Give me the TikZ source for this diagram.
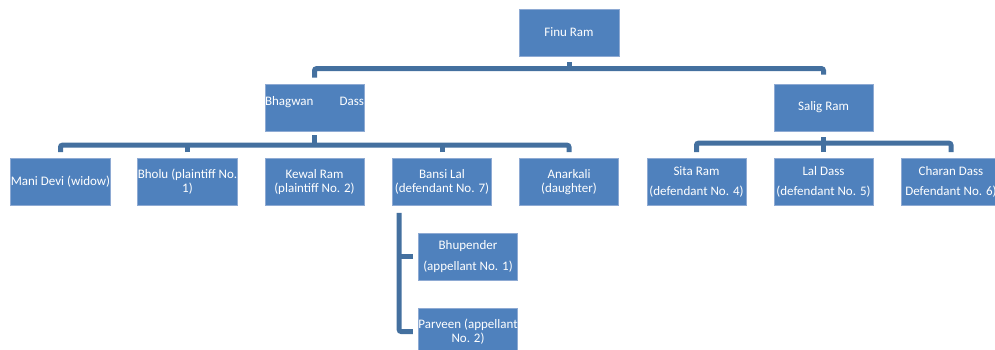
\documentclass[tikz,border=0pt]{standalone}
\usepackage{fontspec}
\setmainfont{Carlito}
\definecolor{boxfill}{HTML}{4F81BD}
\definecolor{boxedge}{HTML}{8EAAD3}
\definecolor{linkcol}{HTML}{44709F}
\tikzset{
  person/.style={draw=boxedge, line width=0.7pt, fill=boxfill, text=white,
    minimum width=99pt, minimum height=47pt, inner sep=0pt, align=center,
    font=\fontsize{13}{14}\selectfont},
  link/.style={draw=linkcol, line width=5pt, rounded corners=2pt}
}
\begin{document}
\begin{tikzpicture}[x=1pt,y=1pt]
            \useasboundingbox (0,0) rectangle (995,349);
            % parents
            \node[person, minimum width=100pt] (finu) at (569,316.5) {Finu Ram};
            \node[person] (bhagwan) at (314.5,241.5) {\makebox[99pt][s]{Bhagwan Dass}\\\phantom{B}};
            \node[person] (salig) at (823.5,241.5) {Salig Ram};
            % children of Bhagwan Dass
            \node[person] (mani) at (60.5,167) {Mani Devi (widow)};
            \node[person] (bholu) at (187.5,167) {Bholu (plaintiff No.\\1)};
            \node[person] (kewal) at (314.5,167) {Kewal Ram\\(plaintiff No. 2)};
            \node[person] (bansi) at (442,167) {Bansi Lal\\(defendant No. 7)};
            \node[person] (anarkali) at (569,167) {Anarkali\\(daughter)};
            % children of Salig Ram
            \node[person] (sita) at (696.5,167) {Sita Ram\\[6pt](defendant No. 4)};
            \node[person] (lal) at (823.5,167) {Lal Dass\\[6pt](defendant No. 5)};
            \node[person] (charan) at (951,167) {Charan Dass\\[6pt]Defendant No. 6)};
            % children of Bansi Lal
            \node[person] (bhupender) at (468,92.5) {Bhupender\\[7pt](appellant No. 1)};
            \node[person] (parveen) at (468,17.5) {Parveen (appellant\\No. 2)};
            % connectors
            \draw[link] ([yshift=-6pt]finu.south) -- ++(0,-7.5);
            \draw[link] ([yshift=6pt]bhagwan.north) -- ++(0,9) -| ([yshift=9pt]salig.north);
            \draw[link] ([yshift=-4pt]bhagwan.south) -- ++(0,-10);
            \draw[link] ([yshift=6pt]mani.north) -- ++(0,7) -| ([yshift=6pt]anarkali.north);
            \draw[link] ([yshift=6pt]bholu.north) -- ++(0,7);
            \draw[link] ([yshift=6pt]bansi.north) -- ++(0,7);
            \draw[link] ([yshift=-6pt]salig.south) -- ++(0,-6);
            \draw[link] ([yshift=6pt]sita.north) -- ++(0,9) -| ([yshift=6pt]charan.north);
            \draw[link] ([yshift=6pt]lal.north) -- ++(0,9);
            \draw[link] ([xshift=7pt,yshift=-7pt]bansi.south west) |- ([xshift=-5pt]parveen.west);
            \draw[link] ([xshift=-5pt]bhupender.west) -- ++(-13,0);
        \end{tikzpicture}
\end{document}
